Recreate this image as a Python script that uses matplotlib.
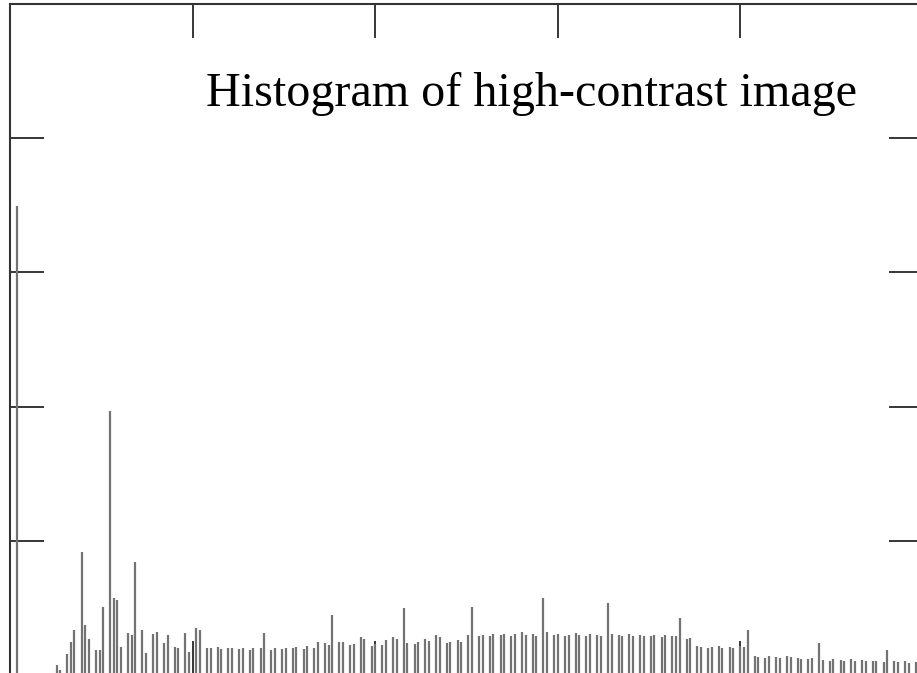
import numpy as np
import matplotlib.pyplot as plt


# 256-bin intensity histogram (counts per gray level 0..255)
gray_levels = np.arange(256)

counts = [
    0, 0, 3490, 0, 0, 0, 0, 0, 0, 0, 0, 0, 0, 75, 40, 0,
    160, 250, 335, 0, 915, 375, 270, 0, 185, 190, 505, 0, 1970, 575, 560, 210,
    0, 315, 300, 840, 0, 335, 165, 0, 310, 320, 0, 240, 300, 0, 210, 200,
    0, 315, 170, 0, 350, 340, 0, 200, 205, 0, 210, 195, 0, 200, 205, 0,
    195, 200, 0, 190, 205, 0, 200, 315, 0, 185, 200, 0, 195, 205, 0, 200,
    210, 0, 195, 215, 0, 205, 245, 0, 240, 225, 450, 0, 250, 245, 0, 225,
    230, 0, 285, 270, 0, 215, 230, 0, 225, 260, 0, 285, 270, 0, 500, 240,
    0, 230, 245, 0, 270, 255, 0, 300, 285, 0, 240, 250, 0, 260, 245, 0,
    300, 510, 0, 295, 300, 0, 290, 310, 0, 300, 305, 0, 295, 310, 0, 320,
    300, 0, 305, 290, 0, 575, 320, 0, 300, 310, 0, 295, 300, 0, 315, 300,
    0, 290, 305, 0, 300, 295, 0, 537, 310, 0, 300, 295, 0, 305, 290, 0,
    300, 295, 0, 290, 300, 0, 285, 300, 0, 295, 290, 425, 0, 270, 275, 0,
    215, 210, 0, 205, 210, 0, 215, 205, 0, 210, 200, 0, 215, 210, 337, 0,
    140, 135, 0, 130, 140, 0, 135, 130, 0, 140, 135, 0, 130, 120, 0, 125,
    130, 0, 240, 115, 0, 110, 120, 0, 115, 110, 0, 120, 105, 0, 115, 110,
    0, 110, 105, 0, 100, 188, 0, 105, 100, 0, 110, 95, 0, 100, 0, 0,
]

x_ticks = [0.2, 0.4, 0.6, 0.8]
y_ticks = [1000, 2000, 3000, 4000]

title_text = 'Histogram of high-contrast image'


fig = plt.figure(figsize=(9.17, 6.73), dpi=100)
# axes box runs a little past the right and bottom edges of the figure
ax = fig.add_axes([10 / 917, -2.3 / 673, 913 / 917, 671.8 / 673])

x = gray_levels / 255.0
ax.vlines(x, 0, counts, color='#737373', linewidth=1.6)

ax.set_xlim(0, 1)
ax.set_ylim(0, 5000)
ax.set_xticks(x_ticks)
ax.set_yticks(y_ticks)
ax.tick_params(direction='in', length=24.5, width=1.1, color='black',
               top=True, right=True,
               labelbottom=False, labelleft=False)

for s in ax.spines.values():
    s.set_linewidth(1.5)
    s.set_color('#333333')

# title sits inside the plot area
fig.text(531.5 / 917, 1 - 106 / 673, title_text,
         family='Liberation Serif', fontsize=34.7, color='black',
         ha='center', va='baseline')

plt.savefig('out.png', dpi=100)
